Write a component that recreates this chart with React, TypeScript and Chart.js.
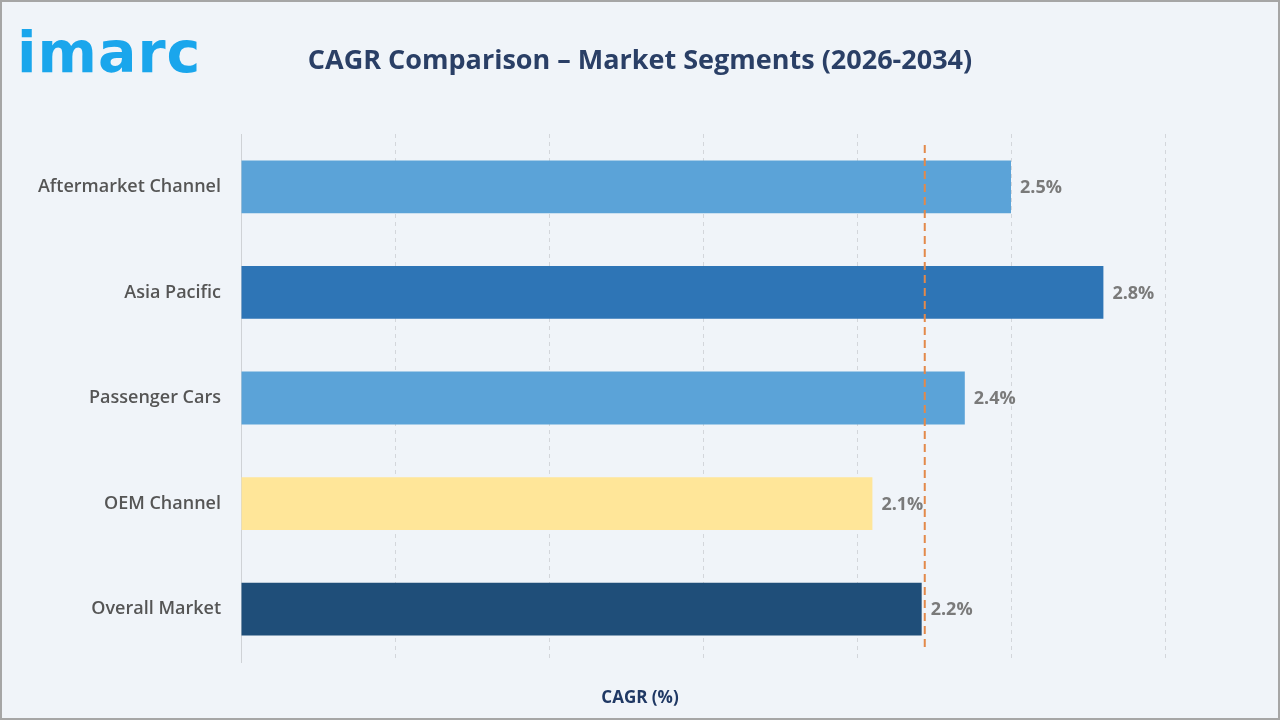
import React, { useEffect, useRef } from 'react';
import { Chart, registerables } from 'chart.js';

Chart.register(...registerables);

const segments = ['Aftermarket Channel', 'Asia Pacific', 'Passenger Cars', 'OEM Channel', 'Overall Market'];
const cagrValues = [2.5, 2.8, 2.35, 2.05, 2.21];
const valueLabels = ['2.5%', '2.8%', '2.4%', '2.1%', '2.2%'];
const barColors = ['#5ba3d8', '#2e75b6', '#5ba3d8', '#ffe699', '#1f4e79'];
const referenceCagr = 2.22;
const chartTitle = 'CAGR Comparison – Market Segments (2026-2034)';

const barLabelPlugin = {
  id: 'barLabels',
  afterDatasetsDraw(chart: any) {
    const { ctx } = chart;
    const meta = chart.getDatasetMeta(0);
    ctx.save();
    ctx.font = 'bold 18px "Open Sans"';
    ctx.fillStyle = '#7a7a7a';
    ctx.textAlign = 'left';
    ctx.textBaseline = 'middle';
    meta.data.forEach((bar: any, i: number) => {
      ctx.fillText(valueLabels[i], bar.x + 9, bar.y + 1);
    });
    ctx.restore();
  },
};

const refLinePlugin = {
  id: 'refLine',
  afterDatasetsDraw(chart: any) {
    const { ctx, chartArea, scales } = chart;
    const x = scales.x.getPixelForValue(referenceCagr);
    ctx.save();
    ctx.strokeStyle = '#e3894a';
    ctx.lineWidth = 2;
    ctx.setLineDash([8, 5]);
    ctx.beginPath();
    ctx.moveTo(x, chartArea.top + 11);
    ctx.lineTo(x, chartArea.bottom - 11);
    ctx.stroke();
    ctx.restore();
  },
};

const textPlugin = {
  id: 'pageText',
  afterDraw(chart: any) {
    const { ctx, width } = chart;
    ctx.save();
    ctx.textAlign = 'center';
    ctx.textBaseline = 'middle';
    ctx.font = 'bold 27px "Open Sans"';
    ctx.fillStyle = '#2a3f66';
    ctx.fillText(chartTitle, width / 2, 61);
    ctx.font = 'bold 17px "Open Sans"';
    ctx.fillStyle = '#1f3864';
    ctx.fillText('CAGR (%)', width / 2, 698);
    ctx.restore();
  },
};

const App: React.FC = () => {
  const canvasRef = useRef<HTMLCanvasElement | null>(null);
  const chartRef = useRef<any>(null);

  useEffect(() => {
    if (chartRef.current) {
      chartRef.current.destroy();
    }
    const ctx = canvasRef.current?.getContext('2d');
    if (ctx) {
      chartRef.current = new Chart(ctx, {
        type: 'bar',
        data: {
          labels: segments,
          datasets: [
            {
              data: cagrValues,
              backgroundColor: barColors,
              barPercentage: 0.5,
              categoryPercentage: 1,
            },
          ],
        },
        options: {
          indexAxis: 'y',
          animation: false,
          responsive: false,
          maintainAspectRatio: false,
          layout: { padding: { left: 0, right: 115, top: 134, bottom: 58 } },
          plugins: {
            legend: { display: false },
            tooltip: { enabled: false },
            title: { display: false },
          },
          scales: {
            x: {
              min: 0,
              max: 3,
              ticks: { display: false, stepSize: 0.5 },
              border: { display: false, dash: [4, 4] },
              grid: { color: '#d3d6db', drawTicks: false },
              afterFit: (scale: any) => {
                scale.height = 0;
              },
            },
            y: {
              grid: { display: false },
              border: { display: true, color: '#cfd2d6', width: 1 },
              ticks: {
                color: '#555555',
                padding: 12,
                font: { family: '"Open Sans"', size: 18, weight: 600 },
              },
              afterFit: (scale: any) => {
                scale.width = 241;
              },
            },
          },
        },
        plugins: [barLabelPlugin, refLinePlugin, textPlugin],
      });
    }
    return () => {
      if (chartRef.current) {
        chartRef.current.destroy();
        chartRef.current = null;
      }
    };
  }, []);

  return (
    <div style={{ position: 'fixed', left: 0, top: 0, width: 1280, height: 720, background: '#f0f4f9' }}>
      <canvas ref={canvasRef} width={1280} height={720} style={{ position: 'absolute', left: 0, top: 0 }} />
      <div
        style={{
          position: 'absolute',
          left: 17,
          top: 24,
          fontFamily: '"DejaVu Sans"',
          fontWeight: 'bold',
          fontSize: 57,
          lineHeight: '57px',
          letterSpacing: 1,
          color: '#1aa6ec',
        }}
      >
        imarc
      </div>
      <div
        style={{
          position: 'absolute',
          inset: 0,
          border: '2px solid #a6a6a6',
          boxSizing: 'border-box',
          pointerEvents: 'none',
        }}
      />
    </div>
  );
};

export default App;
